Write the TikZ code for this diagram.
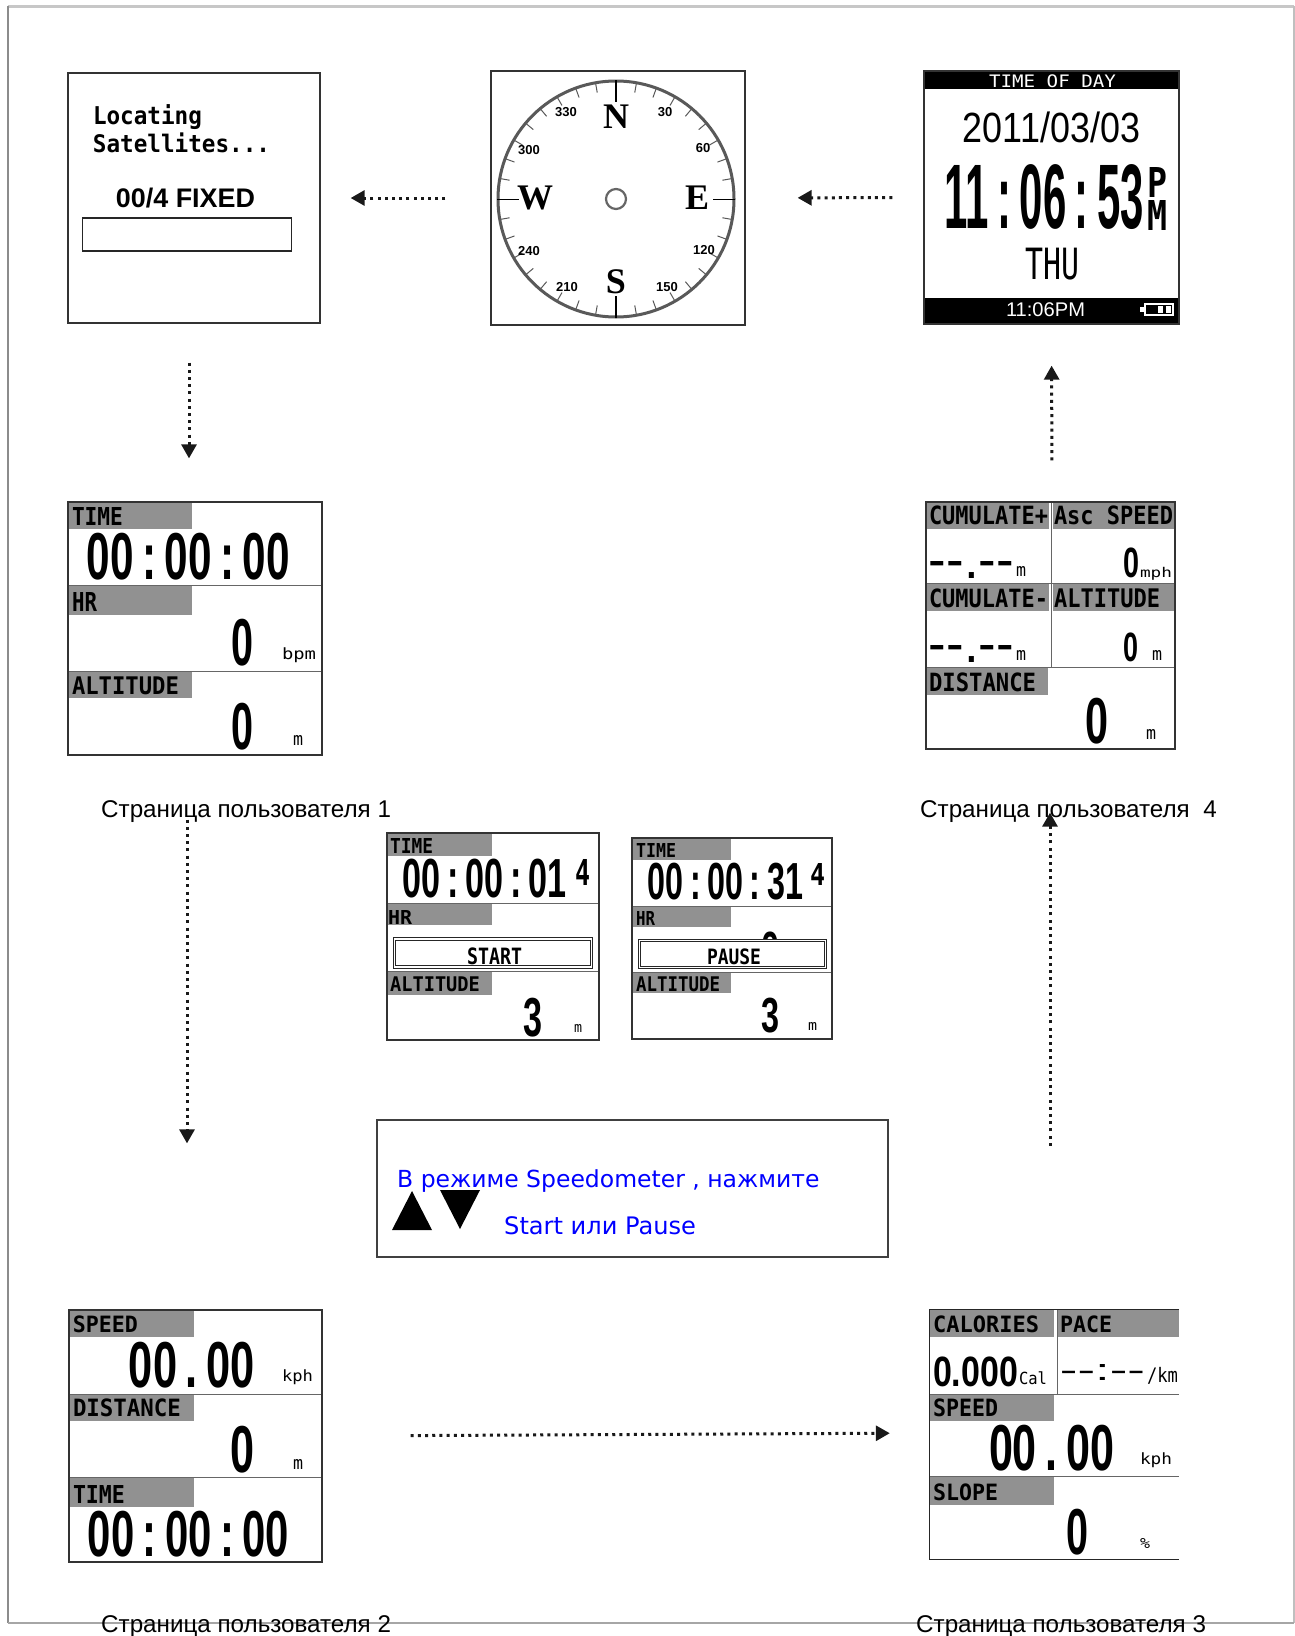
\documentclass[tikz,border=0pt]{standalone}
\usepackage{graphicx}
\usepackage{fontspec}
\usetikzlibrary{arrows.meta,positioning}
\setmainfont{Liberation Sans}
\newfontfamily\digitfont{Liberation Sans}[BoldFont={Liberation Sans Bold}]
\newfontfamily\blockfont{DejaVu Sans Mono}
\newfontfamily\signfont{DejaVu Sans}
\newfontfamily\roseletter{Liberation Serif}
% text fitted into a box x1 y1 x2 y2, as the display prints it
\newcommand{\lcd}[6]{\node[fitted] (#1) at ({(#2+#4)/2},{(#3+#5)/2}) {\resizebox*{\dimexpr #4pt-#2pt\relax}{\dimexpr #5pt-#3pt\relax}{\digitfont\bfseries #6}};}
\newcommand{\lcdthin}[6]{\node[fitted] (#1) at ({(#2+#4)/2},{(#3+#5)/2}) {\resizebox*{\dimexpr #4pt-#2pt\relax}{\dimexpr #5pt-#3pt\relax}{\digitfont #6}};}
\newcommand{\lab}[6]{\node[fitted] (#1) at ({(#2+#4)/2},{(#3+#5)/2}) {\resizebox*{\dimexpr #4pt-#2pt\relax}{\dimexpr #5pt-#3pt\relax}{\blockfont\bfseries #6}};}
\newcommand{\unit}[6]{\node[fitted] (#1) at ({(#2+#4)/2},{(#3+#5)/2}) {\resizebox*{\dimexpr #4pt-#2pt\relax}{\dimexpr #5pt-#3pt\relax}{\blockfont #6}};}
\newcommand{\gap}{\kern.2em}

\begin{document}
\begin{tikzpicture}[x=1pt, y=-1pt, fitted/.style={inner sep=0pt,outer sep=0pt},
  screen/.style={rectangle,draw=black!80,line width=1.3pt,inner sep=0pt,fill=none},
  band/.style={fill=black!43},
  divider/.style={draw=black!60,line width=.9pt},
  flow/.style={-{Triangle[length=14pt,width=15pt]},line width=3pt,dash pattern=on 3pt off 4.2pt,black!90},
  pagelabel/.style={font=\fontsize{24.2}{24.2}\selectfont,inner sep=0pt},
  signtext/.style={font=\signfont\fontsize{23.5}{24.5}\selectfont,text=blue,inner sep=0pt,anchor=base west},
  deg/.style={font=\digitfont\bfseries\fontsize{13}{13}\selectfont,inner sep=0pt},
  rose/.style={font=\roseletter\bfseries\fontsize{36}{36}\selectfont,inner sep=0pt}]
  \useasboundingbox (0,0) rectangle (1295,1636);
  \fill[white] (0,0) rectangle (1295,1636);

  % outer frame
  \draw[black!22,line width=3pt] (8,6) -- (1294,6);
  \draw[black!45,line width=1.4pt] (8,6) -- (8,1623);
  \draw[black!25,line width=2pt] (1294,6) -- (1294,1623);
  \draw[black!35,line width=1.6pt] (8,1623) -- (1294,1623);

  % grey title bars of the displays
  \foreach \xa/\ya/\xb/\yb in {68/502/192/529, 68/585/192/615, 68/671/192/698,
    926/502/1049/529, 1053/502/1175/529, 926/583/1049/611, 1053/583/1175/611, 926/667/1048/695,
    387/833/492/856, 387/903/492/925, 387/971/492/995,
    632/838/731/860, 632/906/731/927, 632/972/731/993,
    69/1310/194/1337, 69/1394/194/1421, 69/1477/194/1507,
    930/1310/1054/1337, 1058/1310/1179/1337, 930/1394/1054/1421, 930/1476/1054/1505}
    \fill[band] (\xa,\ya) rectangle (\xb,\yb);

  % black bars of the clock
  \fill[black] (924,71) rectangle (1179,89);
  \fill[black] (924,298) rectangle (1179,324);

  % dividers
  \foreach \xa/\ya/\xb/\yb in {68/585/322/585, 68/671/322/671,
    926/583/1175/583, 926/667/1175/667, 1051/502/1051/667,
    387/903/599/903, 387/971/599/971, 632/906/832/906, 632/972/832/972,
    69/1394/322/1394, 69/1477/322/1477,
    930/1394/1179/1394, 930/1476/1179/1476, 1057/1310/1057/1394}
    \draw[divider] (\xa,\ya) -- (\xb,\yb);

  \node[screen,minimum width=252pt,minimum height=250pt] (gps) at (194,198) {};
  \node[screen,minimum width=254pt,minimum height=254pt] (compass) at (618,198) {};
  \node[screen,minimum width=255pt,minimum height=253pt] (clock) at (1051.5,197.5) {};
  \node[screen,minimum width=254pt,minimum height=253pt] (page1) at (195,628.5) {};
  \node[screen,minimum width=249pt,minimum height=247pt] (page4) at (1050.5,625.5) {};
  \node[screen,minimum width=212pt,minimum height=207pt] (run) at (493,936.5) {};
  \node[screen,minimum width=200pt,minimum height=201pt] (hold) at (732,938.5) {};
  \node[screen,minimum width=253pt,minimum height=252pt] (page2) at (195.5,1436) {};
  \node[inner sep=0pt,minimum width=249pt,minimum height=249pt] (page3) at (1054.5,1434.5) {};
  \draw[black!85,line width=1.3pt] (page3.north east) -- (page3.north west) -- (page3.south west) -- (page3.south east);
  \node[screen,minimum width=511pt,minimum height=137pt,draw=black!75,line width=1.6pt] (sign) at (632.5,1188.5) {};

  % satellites
  \lab{locating}{93}{105}{202}{130}{Locating}
  \lab{satellites}{93}{133}{270}{153}{Satellites...}
  \lcd{fixed}{116}{188}{255}{208}{00/4 FIXED}
  \node[rectangle,draw=black!85,line width=1.3pt,minimum width=209pt,minimum height=33pt] (bar) at (187,234.5) {};

  % compass
  \draw[black!65,line width=3pt] (616,199) circle (118);
  \foreach \a in {0,10,...,350}
    \draw[black!65,line width=1pt] (616,199) ++(\a:118) -- ++(\a:-10);
  \draw[black,line width=2pt] (616,80) -- (616,102);
  \draw[black,line width=2pt] (616,296) -- (616,318);
  \draw[black,line width=1pt] (497,199) -- (519,199);
  \draw[black,line width=1pt] (713,199) -- (735,199);
  \draw[black!60,line width=2.2pt] (616,199) circle (10);
  \node[rose] (north) at (616,117) {N};
  \node[rose] (south) at (616,282) {S};
  \node[rose] (west) at (535,198) {W};
  \node[rose] (east) at (697,198) {E};
  \foreach \d/\xa/\ya in {330/566/112, 30/665/112, 300/529/150, 60/703/148, 240/529/251, 120/704/250, 210/567/287, 150/667/287}
    \node[deg] (deg\d) at (\xa,\ya) {\d};

  % clock
  \unit{clocktitle}{989}{75}{1116}{88}{\color{white}TIME OF DAY}
  \lcdthin{clockdate}{963}{112}{1140}{143}{2011/03/03}
  \lcd{clocktime}{945}{165}{1144}{230}{11\gap:\gap06\gap:\gap53}
  \lab{clockp}{1147}{167}{1167}{197}{P}
  \lab{clockm}{1147}{200}{1167}{230}{M}
  \unit{clockday}{1025}{248}{1079}{280}{THU}
  \lcdthin{clocksmall}{1006}{303}{1085}{317}{\color{white}11:06PM}
  \draw[white,line width=1.2pt] (1145,304) rectangle (1173,315);
  \fill[white] (1140,307) rectangle (1145,312);
  \fill[white] (1158,306) rectangle (1163,313);
  \fill[white] (1166,306) rectangle (1171,313);

  % page 1
  \lab{timea}{72}{507}{123}{525}{TIME}
  \lcd{clocka}{87}{533}{290}{580}{00\gap:\gap00\gap:\gap00}
  \lab{hra}{72}{592}{97}{611}{HR}
  \lcd{hrvala}{231}{619}{253}{666}{0}
  \unit{bpma}{282}{648}{316}{663}{bpm}
  \lab{alta}{72}{677}{179}{695}{ALTITUDE}
  \lcd{altvala}{231}{703}{253}{750}{0}
  \unit{ma}{293}{735}{303}{745}{m}
  \node[pagelabel,anchor=west] (label1) at (101,812) {Страница пользователя 1};

  % page 4
  \lab{cumup}{929}{506}{1048}{525}{CUMULATE+}
  \lab{ascd}{1054}{506}{1173}{525}{Asc SPEED}
  \lcdthin{dasha}{929}{561}{1014}{578}{--.--}
  \unit{mb}{1016}{566}{1026}{576}{m}
  \lcd{ascval}{1123}{548}{1139}{578}{0}
  \unit{mph}{1140}{567}{1172}{580}{mph}
  \lab{cumdn}{929}{589}{1048}{608}{CUMULATE-}
  \lab{altd}{1054}{589}{1160}{608}{ALTITUDE}
  \lcdthin{dashb}{929}{645}{1014}{662}{--.--}
  \unit{mc}{1016}{650}{1026}{660}{m}
  \lcd{altvald}{1123}{633}{1138}{662}{0}
  \unit{md}{1152}{650}{1162}{660}{m}
  \lab{distd}{929}{673}{1036}{692}{DISTANCE}
  \lcd{distvald}{1085}{698}{1108}{744}{0}
  \unit{me}{1146}{729}{1156}{739}{m}
  \node[pagelabel,anchor=west] (label4) at (920,812) {Страница пользователя~~4};

  % start
  \lab{timeb}{390}{838}{433}{853}{TIME}
  \lcd{clockb}{403}{859}{567}{898}{00\gap:\gap00\gap:\gap01}
  \lab{subb}{575}{859}{590}{885}{4}
  \lab{hrb}{388}{910}{412}{924}{HR}
  \node[rectangle,draw=black!85,fill=white,double=white,double distance=1.5pt,line width=1pt,minimum width=197pt,minimum height=28pt] (startbtn) at (493,953) {};
  \lab{starttext}{467}{948}{522}{965}{START}
  \lab{altb}{390}{977}{480}{992}{ALTITUDE}
  \lcd{altvalb}{523}{998}{542}{1037}{3}
  \unit{mf}{574}{1024}{582}{1032}{m}

  % pause
  \lab{timec}{636}{843}{676}{857}{TIME}
  \lcd{clockc}{648}{863}{803}{900}{00\gap:\gap00\gap:\gap31}
  \lab{subc}{810}{863}{825}{885}{4}
  \lab{hrc}{636}{911}{655}{925}{HR}
  \lcd{hrvalc}{761}{932}{779}{966}{0}
  \node[rectangle,draw=black!85,fill=white,double=white,double distance=1.5pt,line width=1pt,minimum width=186pt,minimum height=27pt] (pausebtn) at (732.5,954) {};
  \lab{pausetext}{707}{949}{761}{965}{PAUSE}
  \lab{altc}{636}{977}{720}{992}{ALTITUDE}
  \lcd{altvalc}{761}{998}{779}{1033}{3}
  \unit{mg}{808}{1022}{817}{1030}{m}

  % sign
  \node[signtext] (signa) at (397,1187) {В режиме Speedometer , нажмите};
  \node[signtext,font=\signfont\fontsize{24.1}{24.5}\selectfont] (signb) at (504,1234) {Start или Pause};
  \fill[black] (412,1191) -- (392,1230) -- (432,1230) -- cycle;
  \fill[black] (440,1190) -- (480,1190) -- (460,1229) -- cycle;

  % page 2
  \lab{speede}{73}{1316}{138}{1333}{SPEED}
  \lcd{speedvale}{129}{1342}{255}{1388}{00\gap.\gap00}
  \unit{kphe}{282}{1370}{313}{1385}{kph}
  \lab{diste}{73}{1399}{181}{1417}{DISTANCE}
  \lcd{distvale}{230}{1426}{254}{1473}{0}
  \unit{mh}{293}{1459}{303}{1469}{m}
  \lab{timee}{73}{1485}{125}{1503}{TIME}
  \lcd{clocke}{88}{1511}{289}{1557}{00\gap:\gap00\gap:\gap00}
  \node[pagelabel,anchor=west] (label2) at (101,1627) {Страница пользователя 2};

  % page 3
  \lab{calf}{933}{1316}{1039}{1333}{CALORIES}
  \lab{pacef}{1060}{1316}{1112}{1333}{PACE}
  \lcd{calval}{933}{1357}{1018}{1387}{0.000}
  \unit{calunit}{1019}{1372}{1047}{1385}{Cal}
  \lcdthin{paceval}{1060}{1364}{1145}{1380}{--:--}
  \unit{kmunit}{1147}{1367}{1178}{1384}{/km}
  \lab{speedf}{933}{1399}{998}{1417}{SPEED}
  \lcd{speedvalf}{989}{1425}{1114}{1471}{00\gap.\gap00}
  \unit{kphf}{1140}{1453}{1172}{1468}{kph}
  \lab{slopef}{933}{1484}{998}{1501}{SLOPE}
  \lcd{slopeval}{1066}{1509}{1088}{1555}{0}
  \unit{percent}{1140}{1538}{1150}{1548}{\%}
  \node[pagelabel,anchor=west] (label3) at (916,1627) {Страница пользователя 3};

  % dotted arrows
  \draw[flow,shorten <=31pt,shorten >=52pt] (clock.west) -- (compass.east);
  \draw[flow,shorten <=45pt,shorten >=30pt] (compass.west) -- (gps.east);
  \draw[flow,shorten <=39pt,shorten >=43pt] ([xshift=-5pt]gps.south) -- ([xshift=-6pt]page1.north);
  \draw[flow,shorten <=64pt,shorten >=166pt] ([xshift=-8pt]page1.south) -- ([xshift=-8.5pt]page2.north);
  \draw[flow,shorten <=88pt,shorten >=40pt] (page2.east) -- ([yshift=1.5pt]page3.west);
  \draw[flow,shorten <=164pt,shorten >=63pt] ([xshift=-4.5pt]page3.north) -- ([xshift=-.5pt]page4.south);
  \draw[flow,shorten <=41pt,shorten >=41pt] ([xshift=1.5pt]page4.north) -- (clock.south);
\end{tikzpicture}
\end{document}
